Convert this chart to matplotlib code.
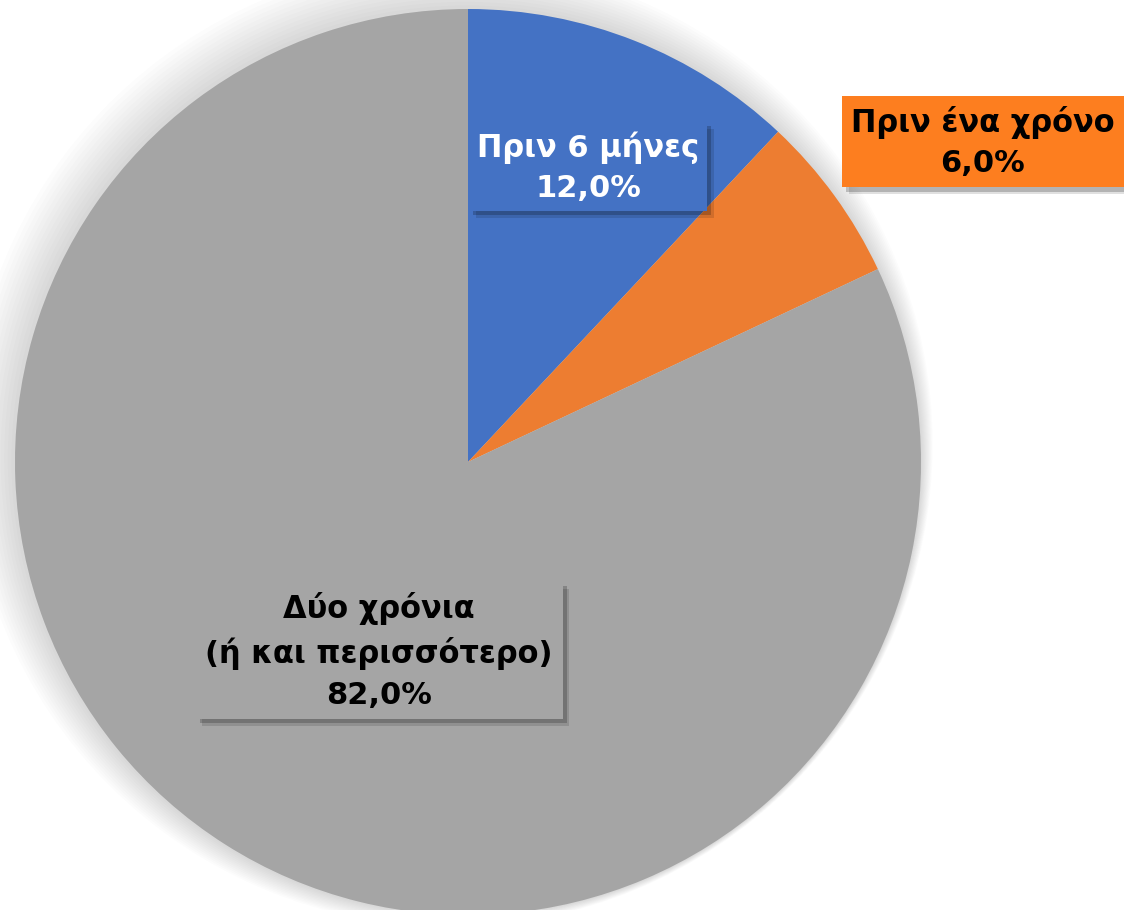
import matplotlib
matplotlib.use("Agg")
import matplotlib.pyplot as plt
import matplotlib.patheffects as pe
from matplotlib.patches import Circle

labels = ["Πριν 6 μήνες", "Πριν ένα χρόνο", "Δύο χρόνια\n(ή και περισσότερο)"]
shares = [12.0, 6.0, 82.0]
slice_colors = ["#4472C4", "#ED7D31", "#A5A5A5"]
box_colors = ["#4472C4", "#FD7E1F", "#A5A5A5"]
text_colors = ["white", "black", "black"]

plt.rcParams['font.family'] = ['DejaVu Sans']

W, H = 1124, 910
cx, cy, R = 468, 462, 453   # pie centre / radius in pixels

fig = plt.figure(figsize=(W / 100, H / 100), dpi=100)
ax = fig.add_axes([0, 0, 1, 1])

# soft halo behind the pie
for i in range(14):
    ax.add_patch(Circle((-0.003 * i, 0.003 * i), 1 + 0.005 * i, color="black",
                        alpha=0.011, lw=0, zorder=0))

wedges, _ = ax.pie(shares, colors=slice_colors, startangle=90, counterclock=False,
                   radius=1, wedgeprops=dict(linewidth=0))
for w in wedges:
    w.set_zorder(1)

ax.set_xlim(-cx / R, (W - cx) / R)
ax.set_ylim(-(H - cy) / R, cy / R)
ax.set_aspect("equal")
ax.axis("off")

# label positions in pixels
label_pos = [(588, 167), (983, 142), (379, 651)]
pads = [0.27, 0.3, 0.32]

box_shadow = [pe.SimplePatchShadow(offset=(5, -5), shadow_rgbFace="black", alpha=0.12),
              pe.SimplePatchShadow(offset=(3, -3), shadow_rgbFace="black", alpha=0.2),
              pe.Normal()]

for lab, val, bc, tc, (px, py), pad in zip(labels, shares, box_colors, text_colors, label_pos, pads):
    txt = f"{lab}\n{val:.1f}%".replace(".", ",")
    t = ax.text((px - cx) / R, (cy - py) / R, txt, ha="center", va="center",
                fontsize=22, fontweight="bold", color=tc, linespacing=1.45, zorder=4,
                bbox=dict(boxstyle=f"square,pad={pad}", fc=bc, ec="none"))
    t.get_bbox_patch().set_path_effects(box_shadow)

fig.savefig("out.png", dpi=100)
